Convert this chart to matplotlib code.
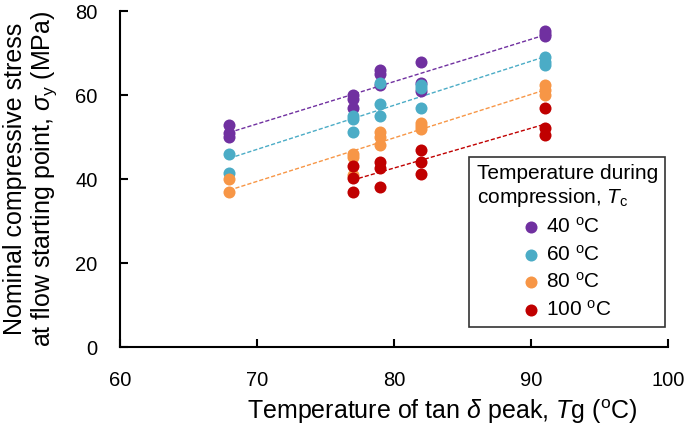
import numpy as np
import matplotlib
matplotlib.use('Agg')
import matplotlib.pyplot as plt

plt.rcParams['font.family'] = ['Liberation Sans', 'DejaVu Sans']
plt.rcParams['mathtext.fontset'] = 'custom'
plt.rcParams['mathtext.rm'] = 'Liberation Sans'
plt.rcParams['mathtext.it'] = 'Liberation Sans:italic'

# Tg (x) and stress (y) for each compression temperature
x_40 = [68, 68, 68, 77, 77, 77, 79, 79, 79, 82, 82, 82, 91, 91, 91]
y_40 = [53, 51, 50, 60, 59, 57, 66, 65, 62.4, 68, 63, 61, 75.2, 74.5, 74]

x_60 = [68, 68, 77, 77, 77, 79, 79, 79, 82, 82, 82, 91, 91, 91]
y_60 = [46, 41.5, 55, 54.2, 51.3, 63, 58, 55, 62.4, 61.6, 57, 69.2, 67.9, 67.1]

x_80 = [68, 68, 77, 77, 77, 79, 79, 79, 82, 82, 82, 91, 91, 91]
y_80 = [40, 37, 46, 45.2, 41, 51.2, 50.1, 48.2, 53.3, 52.6, 52, 62.5, 61.3, 60]

x_100 = [77, 77, 77, 79, 79, 79, 82, 82, 82, 91, 91, 91]
y_100 = [43.2, 40.2, 37, 44, 42.6, 38.2, 47, 44, 41.2, 57, 52.2, 50.5]

etiquetas = ['40 $^\\mathrm{o}$C', '60 $^\\mathrm{o}$C', '80 $^\\mathrm{o}$C', '100 $^\\mathrm{o}$C']
cores = ['#7030A0', '#4BACC6', '#F79646', '#C00000']

series = [(x_40, y_40), (x_60, y_60), (x_80, y_80), (x_100, y_100)]

fig = plt.figure(figsize=(6.85, 4.3), dpi=100)
ax = fig.add_axes([0.175, 0.193, 0.800, 0.781])

for (xs, ys), cor, lab in zip(series, cores, etiquetas):
    xs = np.array(xs)
    ys = np.array(ys)
    ax.scatter(xs, ys, s=75, color=cor, label=lab, zorder=3, linewidths=0)
    # linha de tendencia linear
    a, b = np.polyfit(xs, ys, 1)
    xl = np.array([xs.min(), xs.max()])
    ax.plot(xl, a * xl + b, color=cor, lw=1.0, ls=(0, (3, 1.5)), zorder=2)

ax.set_xlim(60, 100)
ax.set_ylim(0, 80)
ax.set_xticks([60, 70, 80, 90, 100])
ax.set_yticks([0, 20, 40, 60, 80])
ax.tick_params(direction='in', length=6, width=1.5, labelsize=14.5)
ax.tick_params(axis='y', pad=16)
ax.tick_params(axis='x', pad=17)
for s in ['top', 'right']:
    ax.spines[s].set_visible(False)
for s in ['left', 'bottom']:
    ax.spines[s].set_linewidth(1.5)

ax.set_xlabel('Temperature of tan $\\delta$ peak, $T$g ($^\\mathrm{o}$C)', fontsize=18)
ax.xaxis.set_label_coords(0.588, -0.15)
ax.set_ylabel('Nominal compressive stress\nat flow starting point, $\\sigma_\\mathrm{y}$ (MPa)',
              fontsize=18, labelpad=12, linespacing=1.1)

leg = ax.legend(title='Temperature during\ncompression, $T_\\mathrm{c}$', loc='lower right',
                bbox_to_anchor=(1.014, 0.03), fontsize=15, title_fontsize=15,
                frameon=True, fancybox=False, edgecolor='black', handletextpad=0.3,
                handlelength=0.8, labelspacing=0.36, borderpad=0.35, markerscale=1.0)
leg.get_frame().set_linewidth(1.2)
leg._legend_box.align = 'center'

fig.savefig('out.png', dpi=100)
